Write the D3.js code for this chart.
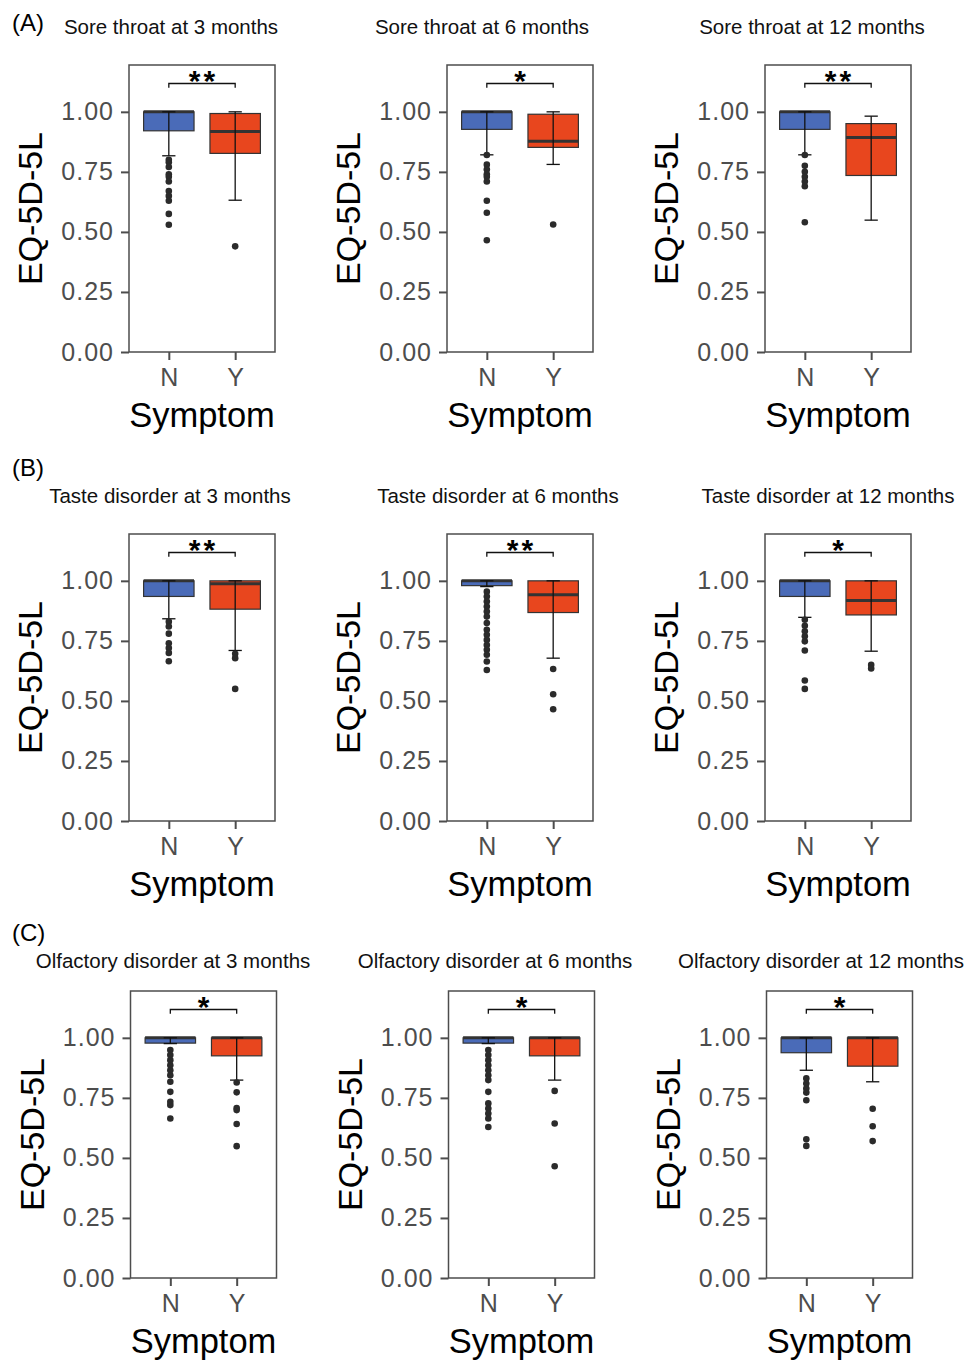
<!DOCTYPE html>
<html>
<head>
<meta charset="utf-8">
<script src="https://cdn.jsdelivr.net/npm/d3@7"></script>
<style>
  body { margin: 0; background: #fff; }
  text { font-family: "Liberation Sans", Arial, sans-serif; }
</style>
</head>
<body>
<div id="chart"></div>
<script>
// data
var rowLabels = ["(A)", "(B)", "(C)"];
var symptoms = ["Sore throat", "Taste disorder", "Olfactory disorder"];
var months = [3, 6, 12];
var groups = ["N", "Y"];
var yTicks = [0, 0.25, 0.5, 0.75, 1];
var stars = [["**", "*", "**"], ["**", "**", "*"], ["*", "*", "*"]];

// [lower whisker, q1, median, q3, upper whisker]
var boxN = [
    [[0.817, 0.921, 1, 1, 1], [0.821, 0.927, 1, 1, 1], [0.821, 0.927, 1, 1, 1]],
    [[0.842, 0.935, 1, 1, 1], [0.976, 0.980, 1, 1, 1], [0.848, 0.935, 1, 1, 1]],
    [[0.976, 0.978, 1, 1, 1], [0.976, 0.978, 1, 1, 1], [0.865, 0.938, 1, 1, 1]]
];
var boxY = [
    [[0.632, 0.827, 0.918, 0.993, 1], [0.781, 0.852, 0.878, 0.990, 1], [0.549, 0.735, 0.893, 0.951, 0.982]],
    [[0.710, 0.882, 0.988, 1, 1], [0.678, 0.868, 0.942, 1, 1], [0.707, 0.858, 0.918, 1, 1]],
    [[0.824, 0.925, 1, 1, 1], [0.824, 0.925, 1, 1, 1], [0.817, 0.882, 1, 1, 1]]
];
var outN = [
    [[0.80, 0.79, 0.77, 0.74, 0.73, 0.71, 0.67, 0.65, 0.63, 0.575, 0.53],
     [0.82, 0.78, 0.76, 0.74, 0.73, 0.71, 0.63, 0.58, 0.465],
     [0.82, 0.775, 0.75, 0.73, 0.71, 0.69, 0.54]],
    [[0.83, 0.81, 0.78, 0.74, 0.72, 0.70, 0.665],
     [0.955, 0.935, 0.914, 0.893, 0.872, 0.851, 0.824, 0.796, 0.775, 0.754, 0.733, 0.713, 0.692, 0.664, 0.629],
     [0.838, 0.813, 0.79, 0.769, 0.748, 0.71, 0.585, 0.55]],
    [[0.949, 0.928, 0.907, 0.886, 0.865, 0.844, 0.817, 0.775, 0.734, 0.72, 0.664],
     [0.949, 0.928, 0.907, 0.886, 0.865, 0.844, 0.824, 0.775, 0.727, 0.706, 0.685, 0.664, 0.629],
     [0.831, 0.81, 0.789, 0.772, 0.74, 0.578, 0.55]]
];
var outY = [
    [[0.44], [0.531], []],
    [[0.696, 0.678, 0.55], [0.633, 0.528, 0.465], [0.65, 0.635]],
    [[0.814, 0.773, 0.708, 0.699, 0.641, 0.549], [0.779, 0.643, 0.465], [0.705, 0.632, 0.57]]
];

// layout
var W = 968, H = 1360;
var colX = [129, 447, 765];
var rowY = [65, 534, 991];
var rowShift = [0, 0, 1.5];
var labelY = [31, 476, 941];
var titleY = [34, 503, 968];
var titleX = [[171, 482, 812], [170, 498, 828], [173, 495, 821]];
var plotW = 146, plotH = 287;
var fill = {N: "#4a6bb8", Y: "#e8461e"};
var grey = "#4d4d4d";

var svg = d3.select("#chart").append("svg")
    .attr("width", W)
    .attr("height", H);

rowLabels.forEach(function(lab, r){
    svg.append("text")
        .attr("x", 12)
        .attr("y", labelY[r])
        .attr("font-size", 24)
        .attr("fill", "#000")
        .text(lab);
});

symptoms.forEach(function(sym, r){
    months.forEach(function(m, c){
        var x0 = colX[c] + rowShift[r], y0 = rowY[r];
        var g = svg.append("g").attr("transform", "translate(" + x0 + "," + y0 + ")");

        // discrete positions sit 0.6 units in from the edges (ggplot expansion)
        var unit = plotW / 2.2;
        var x = d3.scalePoint().domain(groups).range([unit * 0.6, unit * 1.6]);
        var y = d3.scaleLinear().domain([0, 1.195]).range([plotH, 0]);

        // title
        svg.append("text")
            .attr("x", titleX[r][c])
            .attr("y", titleY[r])
            .attr("text-anchor", "middle")
            .attr("font-size", 20.5)
            .attr("fill", "#111")
            .text(sym + " at " + m + " months");

        // y axis
        var yAxis = g.append("g").call(d3.axisLeft(y).tickValues(yTicks)
            .tickFormat(d3.format(".2f")).tickSize(8).tickPadding(7));
        yAxis.select(".domain").remove();
        yAxis.selectAll(".tick line").attr("stroke", grey).attr("stroke-width", 2);
        yAxis.selectAll(".tick text").attr("font-size", 25).attr("fill", grey)
            .attr("letter-spacing", 1)
            .attr("font-family", "Liberation Sans, Arial, sans-serif");

        // x axis
        var xAxis = g.append("g").attr("transform", "translate(0," + plotH + ")")
            .call(d3.axisBottom(x).tickSize(8).tickPadding(8));
        xAxis.select(".domain").remove();
        xAxis.selectAll(".tick line").attr("stroke", grey).attr("stroke-width", 2);
        xAxis.selectAll(".tick text").attr("font-size", 25).attr("fill", grey)
            .attr("font-family", "Liberation Sans, Arial, sans-serif");

        // axis titles
        g.append("text")
            .attr("transform", "translate(-87," + (plotH / 2) + ") rotate(-90)")
            .attr("text-anchor", "middle")
            .attr("font-size", 34)
            .attr("fill", "#000")
            .text("EQ-5D-5L");
        g.append("text")
            .attr("x", plotW / 2)
            .attr("y", plotH + 75)
            .attr("text-anchor", "middle")
            .attr("font-size", 34.5)
            .attr("fill", "#000")
            .text("Symptom");

        // boxes
        var stats = {N: boxN[r][c], Y: boxY[r][c]};
        var outs = {N: outN[r][c], Y: outY[r][c]};
        var bw = unit * 0.76, cap = unit * 0.2;
        groups.forEach(function(k){
            var s = stats[k], cx = x(k);
            g.append("rect")
                .attr("x", cx - bw / 2)
                .attr("y", y(s[3]))
                .attr("width", bw)
                .attr("height", Math.max(y(s[1]) - y(s[3]), 1))
                .attr("fill", fill[k])
                .attr("stroke", "#333")
                .attr("stroke-width", 1.2);
            g.append("line")
                .attr("x1", cx - bw / 2).attr("x2", cx + bw / 2)
                .attr("y1", y(s[2])).attr("y2", y(s[2]))
                .attr("stroke", "#333").attr("stroke-width", 3);
            // errorbar whiskers
            g.append("line")
                .attr("x1", cx).attr("x2", cx)
                .attr("y1", y(s[0])).attr("y2", y(s[4]))
                .attr("stroke", "#111").attr("stroke-width", 1.3);
            [s[0], s[4]].forEach(function(v){
                g.append("line")
                    .attr("x1", cx - cap / 2).attr("x2", cx + cap / 2)
                    .attr("y1", y(v)).attr("y2", y(v))
                    .attr("stroke", "#111").attr("stroke-width", 1.3);
            });
            g.selectAll(null).data(outs[k]).enter().append("circle")
                .attr("cx", cx)
                .attr("cy", function(d){ return y(d); })
                .attr("r", 3.3)
                .attr("fill", "#2b2b2b");
        });

        // significance bracket
        var by = y(1.118), bd = y(1.10);
        g.append("path")
            .attr("d", "M" + x("N") + "," + bd + "V" + by + "H" + x("Y") + "V" + bd)
            .attr("fill", "none")
            .attr("stroke", "#111")
            .attr("stroke-width", 1.3);
        g.append("text")
            .attr("x", (x("N") + x("Y")) / 2 + 1.5)
            .attr("y", by + 7)
            .attr("text-anchor", "middle")
            .attr("font-size", 30)
            .attr("font-weight", "bold")
            .attr("letter-spacing", 3)
            .attr("fill", "#000")
            .text(stars[r][c]);

        // panel border
        g.append("rect")
            .attr("width", plotW)
            .attr("height", plotH)
            .attr("fill", "none")
            .attr("stroke", grey)
            .attr("stroke-width", 1.5);
    });
});
</script>
</body>
</html>
